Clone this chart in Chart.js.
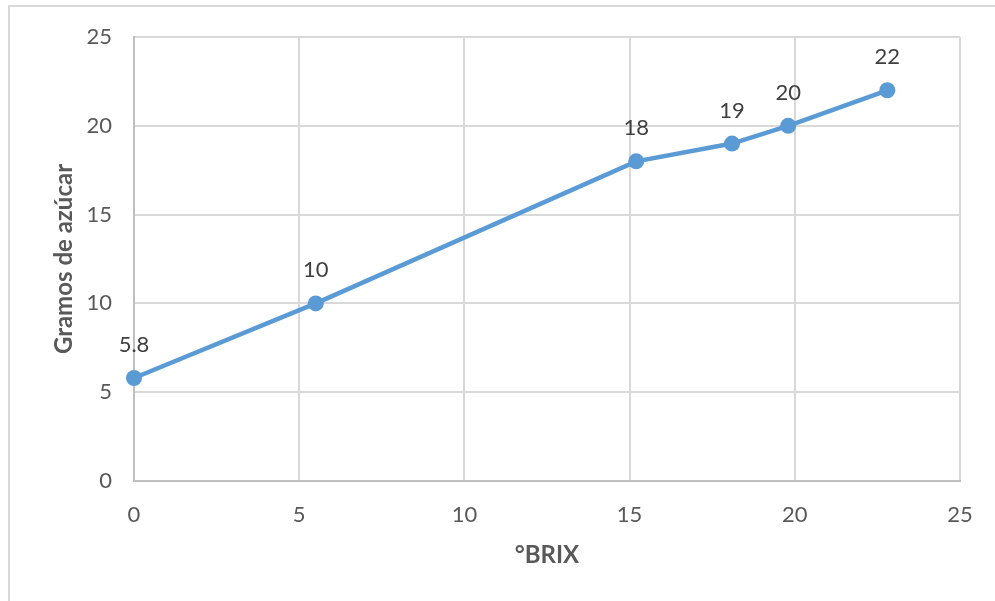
<!DOCTYPE html>
<html>
<head>
<meta charset="utf-8">
<script src="https://cdn.jsdelivr.net/npm/chart.js@4"></script>
<style>
  html, body { margin: 0; padding: 0; background: #ffffff; }
  #wrap { width: 995px; height: 601px; position: relative; }
</style>
</head>
<body>
<div id="wrap"><canvas id="c" width="995" height="601"></canvas></div>
<script>
// Sugar content against degrees Brix
const brix = [0, 5.5, 15.2, 18.1, 19.8, 22.8];
const gramos = [5.8, 10, 18, 19, 20, 22];
const xTicks = [0, 5, 10, 15, 20, 25];
const yTicks = [0, 5, 10, 15, 20, 25];
const xTitle = '°BRIX';
const yTitle = 'Gramos de azúcar';

const FONT = 'Lato, "Open Sans", sans-serif';
const LINE = '#5B9BD5';

// Light frame around the whole chart
const framePlugin = {
  id: 'frame',
  beforeDraw(chart) {
    const c = chart.ctx;
    c.save();
    c.strokeStyle = '#d9d9d9';
    c.lineWidth = 2;
    c.strokeRect(9, 6, 1100, 700);
    c.restore();
  }
};

// Value labels above each point
const valueLabels = {
  id: 'valueLabels',
  afterDatasetsDraw(chart) {
    const c = chart.ctx;
    const meta = chart.getDatasetMeta(0);
    c.save();
    c.font = '22px ' + FONT;
    c.fillStyle = '#404040';
    c.textAlign = 'center';
    c.textBaseline = 'middle';
    meta.data.forEach((pt, i) => {
      c.fillText(String(gramos[i]), pt.x, pt.y - 33);
    });
    c.restore();
  }
};

const gridColor = (ctx) => (ctx.tick && ctx.tick.value === 0) ? '#bfbfbf' : '#d9d9d9';

new Chart(document.getElementById('c'), {
  type: 'scatter',
  data: {
    datasets: [{
      data: brix.map((x, i) => ({ x: x, y: gramos[i] })),
      showLine: true,
      borderColor: LINE,
      borderWidth: 4.5,
      backgroundColor: LINE,
      pointBackgroundColor: LINE,
      pointBorderWidth: 0,
      pointRadius: 8,
      tension: 0,
      clip: false
    }]
  },
  options: {
    responsive: false,
    animation: false,
    events: [],
    layout: { padding: { left: 0, top: 37, right: 35, bottom: 0 } },
    plugins: { legend: { display: false }, tooltip: { enabled: false } },
    scales: {
      x: {
        type: 'linear',
        min: 0, max: 25,
        afterBuildTicks(scale) { scale.ticks = xTicks.map(v => ({ value: v })); },
        afterFit(scale) { scale.height = 120; },
        grid: { color: gridColor, lineWidth: 2, drawTicks: false },
        border: { color: '#bfbfbf', width: 2 },
        ticks: { color: '#595959', font: { family: FONT, size: 22 }, padding: 21, maxRotation: 0 },
        title: {
          display: true, text: xTitle, color: '#595959',
          font: { family: FONT, size: 24, weight: 'bold' },
          padding: { top: 0, bottom: 31 }
        }
      },
      y: {
        type: 'linear',
        min: 0, max: 25,
        afterBuildTicks(scale) { scale.ticks = yTicks.map(v => ({ value: v })); },
        afterFit(scale) { scale.width = 134; },
        grid: { color: gridColor, lineWidth: 2, drawTicks: false },
        border: { color: '#bfbfbf', width: 2 },
        ticks: { color: '#595959', font: { family: FONT, size: 22 }, padding: 22 },
        title: {
          display: true, text: yTitle, color: '#595959',
          font: { family: FONT, size: 24, weight: 'bold' },
          padding: { top: 50, bottom: 0 }
        }
      }
    }
  },
  plugins: [framePlugin, valueLabels]
});
</script>
</body>
</html>
